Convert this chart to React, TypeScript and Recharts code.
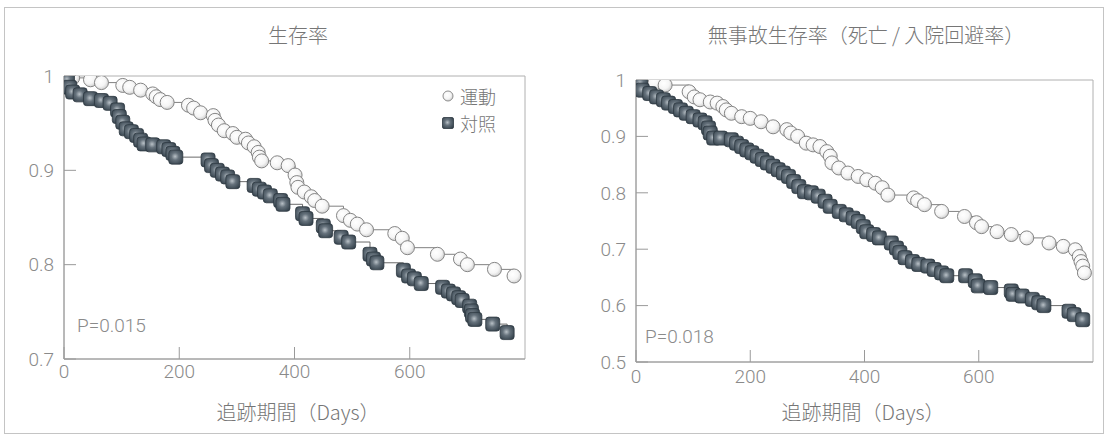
import { ComposedChart, Line, XAxis, YAxis, ReferenceArea } from "recharts";

// 共通の目盛り
const dayTicks = [0, 200, 400, 600];
const survTicksA = [0.7, 0.8, 0.9, 1];
const survTicksB = [0.5, 0.6, 0.7, 0.8, 0.9, 1];

// 生存率 — 運動群
const exDaysA = [0, 15, 46, 65, 102, 114, 133, 154, 160, 167, 179, 216, 225, 237, 259, 262, 268, 278, 293, 300, 315, 320, 330, 337, 339, 343, 370, 389, 401, 404, 406, 417, 429, 435, 448, 485, 497, 509, 525, 574, 587, 596, 648, 688, 700, 747, 781];
const exSurvA = [1, 0.998, 0.996, 0.993, 0.99, 0.988, 0.985, 0.981, 0.978, 0.975, 0.972, 0.969, 0.966, 0.961, 0.958, 0.953, 0.948, 0.942, 0.939, 0.935, 0.933, 0.929, 0.925, 0.919, 0.914, 0.91, 0.908, 0.905, 0.895, 0.887, 0.882, 0.877, 0.872, 0.868, 0.862, 0.852, 0.847, 0.843, 0.837, 0.833, 0.828, 0.818, 0.811, 0.806, 0.8, 0.795, 0.788];

// 生存率 — 対照群
const ctDaysA = [0, 6, 10, 15, 28, 46, 65, 80, 93, 96, 102, 108, 117, 126, 133, 139, 154, 173, 182, 189, 194, 250, 256, 266, 275, 284, 293, 330, 339, 348, 358, 376, 380, 414, 420, 450, 454, 481, 494, 531, 537, 543, 589, 598, 608, 620, 657, 667, 676, 685, 691, 704, 707, 709, 713, 744, 769];
const ctSurvA = [1, 0.996, 0.988, 0.983, 0.98, 0.976, 0.974, 0.971, 0.964, 0.957, 0.951, 0.944, 0.941, 0.937, 0.932, 0.928, 0.927, 0.925, 0.922, 0.918, 0.914, 0.911, 0.905, 0.9, 0.896, 0.893, 0.888, 0.884, 0.88, 0.877, 0.873, 0.868, 0.864, 0.854, 0.849, 0.841, 0.836, 0.829, 0.824, 0.811, 0.806, 0.802, 0.794, 0.788, 0.785, 0.78, 0.776, 0.772, 0.769, 0.765, 0.762, 0.756, 0.751, 0.746, 0.742, 0.737, 0.728];

// 無事故生存率 — 運動群
const exDaysB = [0, 11, 33, 51, 93, 102, 112, 130, 142, 152, 158, 167, 185, 200, 219, 240, 264, 271, 283, 298, 310, 322, 334, 340, 343, 355, 371, 389, 404, 419, 431, 441, 486, 493, 505, 535, 575, 596, 605, 632, 657, 684, 723, 748, 769, 776, 779, 782, 785];
const exSurvB = [1, 1, 0.995, 0.991, 0.979, 0.97, 0.965, 0.961, 0.959, 0.953, 0.947, 0.941, 0.935, 0.932, 0.926, 0.917, 0.912, 0.906, 0.9, 0.888, 0.885, 0.882, 0.873, 0.865, 0.853, 0.844, 0.835, 0.829, 0.823, 0.817, 0.809, 0.796, 0.791, 0.786, 0.779, 0.767, 0.758, 0.747, 0.74, 0.731, 0.726, 0.72, 0.711, 0.705, 0.699, 0.687, 0.678, 0.67, 0.658];

// 無事故生存率 — 対照群
const ctDaysB = [0, 8, 11, 24, 36, 48, 57, 69, 78, 88, 100, 112, 121, 127, 130, 136, 148, 167, 176, 185, 194, 203, 212, 221, 230, 240, 249, 258, 267, 276, 285, 295, 307, 319, 331, 340, 356, 368, 380, 389, 398, 404, 416, 426, 447, 456, 462, 471, 484, 495, 511, 522, 535, 544, 577, 594, 599, 621, 657, 660, 676, 694, 705, 714, 758, 767, 782];
const ctSurvB = [1, 0.994, 0.982, 0.976, 0.97, 0.965, 0.959, 0.953, 0.947, 0.941, 0.935, 0.929, 0.924, 0.915, 0.906, 0.897, 0.897, 0.894, 0.888, 0.882, 0.876, 0.871, 0.865, 0.859, 0.853, 0.847, 0.841, 0.835, 0.829, 0.82, 0.811, 0.802, 0.8, 0.794, 0.785, 0.776, 0.767, 0.761, 0.755, 0.749, 0.74, 0.731, 0.726, 0.72, 0.711, 0.702, 0.694, 0.685, 0.678, 0.673, 0.67, 0.664, 0.658, 0.653, 0.653, 0.644, 0.635, 0.632, 0.626, 0.62, 0.617, 0.611, 0.605, 0.6, 0.59, 0.584, 0.575];

const toRows = (days: number[], surv: number[]) => days.map((d, i) => ({ d, v: surv[i] }));

const grey = "#8a8a8a";
const textFont = "Roboto, 'Open Sans', sans-serif";
const jpFont = "'Noto Sans CJK JP', 'Noto Sans', sans-serif";

function OpenDot(props: any) {
  const { cx, cy, index } = props;
  if (index === 0 || cx == null) return <g key={`o${index}`} />;
  return <circle key={`o${index}`} cx={cx} cy={cy} r={7} fill="url(#exGrad)" stroke="#858585" strokeWidth={1} />;
}

function SquareDot(props: any) {
  const { cx, cy, index } = props;
  if (index === 0 || cx == null) return <g key={`s${index}`} />;
  return <rect key={`s${index}`} x={cx - 7} y={cy - 7} width={14} height={14} rx={3} fill="url(#ctGrad)" stroke="#2c3740" strokeWidth={0.8} />;
}

type PanelProps = {
  left: number;
  yWidth: number;
  marginRight: number;
  top: number;
  bottom: number;
  yDomain: [number, number];
  yTicks: number[];
  ex: { d: number; v: number }[];
  ct: { d: number; v: number }[];
  xLabelMargin: number;
};

function SurvivalPanel(p: PanelProps) {
  const tickStyle = { fontSize: 19, fill: grey, fontFamily: textFont, fontWeight: 300 };
  return (
    <div style={{ position: "absolute", left: p.left, top: 0 }}>
      <ComposedChart width={553} height={436} margin={{ top: p.top, right: p.marginRight, bottom: p.bottom, left: 0 }}>
        <XAxis
          type="number"
          dataKey="d"
          domain={[0, 800]}
          ticks={dayTicks}
          allowDataOverflow
          tick={tickStyle}
          tickSize={-12}
          tickMargin={p.xLabelMargin}
          height={30}
          stroke="#9a9a9a"
        />
        <YAxis
          type="number"
          domain={p.yDomain}
          ticks={p.yTicks}
          allowDataOverflow
          tick={tickStyle}
          tickSize={-12}
          tickMargin={22}
          width={p.yWidth}
          stroke="#9a9a9a"
        />
        <ReferenceArea x1={0} x2={800} y1={p.yDomain[0]} y2={p.yDomain[1]} fill="none" stroke="#b0b0b0" strokeWidth={1} />
        <Line data={p.ex} dataKey="v" type="stepAfter" stroke="#808080" strokeWidth={1} dot={OpenDot} activeDot={false} isAnimationActive={false} />
        <Line data={p.ct} dataKey="v" type="stepAfter" stroke="#6a6a6a" strokeWidth={1} dot={SquareDot} activeDot={false} isAnimationActive={false} />
      </ComposedChart>
    </div>
  );
}

const labelStyle: React.CSSProperties = {
  position: "absolute",
  fontFamily: jpFont,
  fontSize: 20,
  color: "#767676",
  whiteSpace: "nowrap",
  transform: "translate(-50%, -50%)",
  lineHeight: 1,
  fontWeight: 300,
};

const pStyle: React.CSSProperties = {
  position: "absolute",
  fontFamily: textFont,
  fontSize: 19,
  fontWeight: 300,
  color: grey,
  lineHeight: 1,
  transform: "translateY(-50%)",
};

const legendRow: React.CSSProperties = {
  position: "absolute",
  left: 441,
  display: "flex",
  alignItems: "center",
  height: 18,
  fontFamily: jpFont,
  fontSize: 18,
  lineHeight: "18px",
  color: "#767676",
  fontWeight: 300,
};

export default function App() {
  return (
    <div style={{ position: "absolute", left: 0, top: 0, width: 1106, height: 436, background: "#fff", overflow: "hidden" }}>
      <svg width={0} height={0} style={{ position: "absolute" }}>
        <defs>
          <radialGradient id="exGrad" cx="40%" cy="38%" r="65%">
            <stop offset="0%" stopColor="#ffffff" />
            <stop offset="60%" stopColor="#f5f5f5" />
            <stop offset="100%" stopColor="#cfcfcf" />
          </radialGradient>
          <radialGradient id="ctGrad" cx="45%" cy="45%" r="65%">
            <stop offset="0%" stopColor="#b9c1c7" />
            <stop offset="40%" stopColor="#66727c" />
            <stop offset="100%" stopColor="#33404a" />
          </radialGradient>
        </defs>
      </svg>
      <div style={{ position: "absolute", left: 4, top: 7, width: 1098, height: 425, border: "1px solid #c4c4c4" }} />

      <SurvivalPanel
        left={0}
        yWidth={64}
        marginRight={28}
        top={76}
        bottom={47}
        yDomain={[0.7, 1]}
        yTicks={survTicksA}
        ex={toRows(exDaysA, exSurvA)}
        ct={toRows(ctDaysA, ctSurvA)}
        xLabelMargin={18}
      />
      <SurvivalPanel
        left={553}
        yWidth={83}
        marginRight={13}
        top={80}
        bottom={44}
        yDomain={[0.5, 1]}
        yTicks={survTicksB}
        ex={toRows(exDaysB, exSurvB)}
        ct={toRows(ctDaysB, ctSurvB)}
        xLabelMargin={20}
      />

      <div style={{ ...labelStyle, left: 298, top: 35 }}>生存率</div>
      <div style={{ ...labelStyle, left: 298, top: 412 }}>追跡期間（Days）</div>
      <div style={{ ...labelStyle, left: 866, top: 35 }}>無事故生存率（死亡 / 入院回避率）</div>
      <div style={{ ...labelStyle, left: 863, top: 412 }}>追跡期間（Days）</div>

      <div style={{ ...pStyle, left: 77, top: 325 }}>P=0.015</div>
      <div style={{ ...pStyle, left: 645, top: 336 }}>P=0.018</div>

      <div style={{ ...legendRow, top: 87 }}>
        <svg width={14} height={14} style={{ marginRight: 5 }}>
          <circle cx={7} cy={7} r={5} fill="url(#exGrad)" stroke="#8d8d8d" strokeWidth={1} />
        </svg>
        運動
      </div>
      <div style={{ ...legendRow, top: 114 }}>
        <svg width={14} height={14} style={{ marginRight: 5 }}>
          <rect x={1.5} y={1.5} width={11} height={11} rx={1.5} fill="url(#ctGrad)" stroke="#2c3740" strokeWidth={0.8} />
        </svg>
        対照
      </div>
    </div>
  );
}
